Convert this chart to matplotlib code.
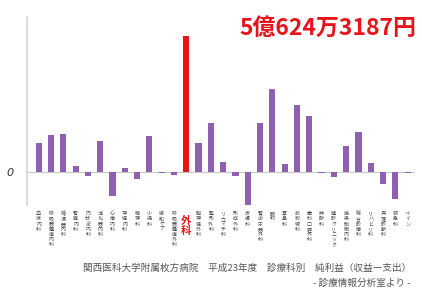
import matplotlib.pyplot as plt

plt.rcParams['font.family'] = ['Noto Sans CJK JP', 'DejaVu Sans']

# 診療科別 純利益（億円）
departments = ['血液内科', '呼吸器腫瘍内科', '循環器内科', '腎臓内科', '内分泌内科',
               '消化器内科', '心療内科', '神経内科', '精神科', '小児科', '緩和ケア',
               '呼吸器腫瘍外科', '外科', '脳神経外科', '整形外科', 'リウマチ科', '形成外科',
               '皮膚科', '腎泌尿器外科', '眼科', '耳鼻科', '放射線科', '歯科口腔外科',
               '麻酔科', '健診クリニック', '感染制御内科', '総合診療科', 'リハビリ科',
               '病理診断科', '救急科', 'ペイン']
profit = [1.09, 1.38, 1.42, 0.23, -0.14, 1.16, -0.88, 0.16, -0.25, 1.35, -0.04,
          -0.10, 5.06, 1.09, 1.83, 0.38, -0.14, -1.21, 1.83, 3.09, 0.31, 2.50,
          2.09, -0.02, -0.17, 0.98, 1.50, 0.35, -0.43, -0.99, -0.02]
highlight = '外科'

purple = '#9060b0'
red = '#e8141c'

fig = plt.figure(figsize=(4.22, 2.93), dpi=100)
ax = fig.add_axes([27 / 422, 1 - 205 / 293, 388 / 422, 188 / 293])

x = list(range(len(departments)))
colors = [red if d == highlight else purple for d in departments]
ax.bar(x, profit, width=0.5, color=colors, zorder=2)
ax.axhline(0, color='#c8c8c8', lw=0.8, zorder=1)

ax.set_xlim(-0.95, 30.6)
ax.set_ylim(-1.22, 5.76)
for s in ['top', 'right', 'bottom']:
    ax.spines[s].set_visible(False)
ax.spines['left'].set_color('#d4d4d4')
ax.spines['left'].set_linewidth(1.2)
ax.set_xticks([])
ax.set_yticks([0])
ax.set_yticklabels(['0'], fontstyle='italic', fontsize=8, color='#333333',
                   family=['DejaVu Sans'])
ax.tick_params(axis='y', length=0, pad=10)

# vertical department labels
for i, d in enumerate(departments):
    if d == highlight:
        ax.text(i, -1.62, '\n'.join(d), color=red, fontsize=7.5, fontweight='bold',
                ha='center', va='top', linespacing=1.0, clip_on=False)
    else:
        ax.text(i, -1.45, '\n'.join(d), color='#444444', fontsize=3.6,
                ha='center', va='top', linespacing=1.05, clip_on=False)

fig.text(416 / 422, 1 - 28 / 293, '5億624万3187円', color=red, fontsize=16.5,
         fontweight='bold', fontstyle='italic', ha='right', va='center')
fig.text(411 / 422, 1 - 268 / 293,
         '関西医科大学附属枚方病院　平成23年度　診療科別　純利益（収益ー支出）',
         color='#555555', fontsize=6.9, ha='right', va='center')
fig.text(411 / 422, 1 - 283 / 293, '- 診療情報分析室より -',
         color='#555555', fontsize=6.9, ha='right', va='center')

fig.savefig('out.png', dpi=100)
